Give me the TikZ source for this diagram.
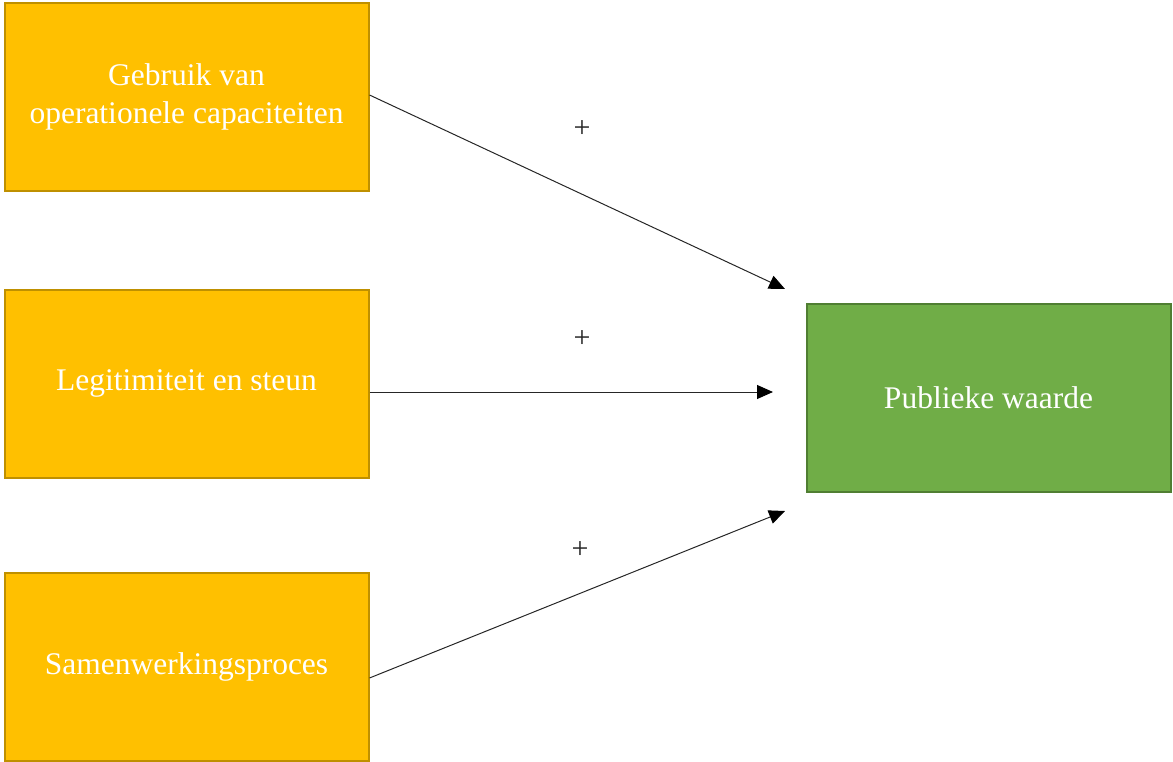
\documentclass[tikz,border=0pt]{standalone}
\usepackage{fontspec}
\setmainfont{Liberation Serif}
\usetikzlibrary{arrows.meta,calc}
\definecolor{yfill}{HTML}{FFC000}
\definecolor{ydraw}{HTML}{BF9000}
\definecolor{gfill}{HTML}{70AD47}
\definecolor{gdraw}{HTML}{507E32}
\begin{document}
\begin{tikzpicture}[x=1pt,y=-1pt,
  ybox/.style={draw=ydraw,fill=yfill,line width=2pt,minimum width=364pt,minimum height=188pt,inner sep=0pt,
    text=white,align=center,font=\fontsize{31.5}{38}\selectfont},
  gbox/.style={ybox,draw=gdraw,fill=gfill},
  link/.style={line width=1pt,draw=black!85,-{Triangle[length=16pt,width=14pt,color=black]}},
  sign/.style={font=\fontsize{30}{30}\selectfont,text=black!85,inner sep=0pt}]
\useasboundingbox (0,0) rectangle (1173,762);
\node[ybox] (b1) at (186.5,97) {\raisebox{-3pt}{Gebruik van}\\\raisebox{-3pt}{operationele capaciteiten}};
\node[ybox] (b2) at (186.5,383.5) {\raisebox{-3pt}{Legitimiteit en steun}};
\node[ybox] (b3) at (186.5,666.5) {\raisebox{-2pt}{Samenwerkingsproces}};
\node[gbox] (g) at (988.5,398) {\raisebox{-2pt}{Publieke waarde}};
\coordinate (t1) at (785,289);
\coordinate (t2) at (773,392);
\coordinate (t3) at (785,511);
\draw[link] ([yshift=2pt]b1.east) -- (t1);
\draw[link] ([yshift=-8.5pt]b2.east) -- (t2);
\draw[link] ([yshift=-11.5pt]b3.east) -- (t3);
\node[sign] (p1) at (582,129) {+};
\node[sign] (p2) at (582,339) {+};
\node[sign] (p3) at (580,550) {+};
\end{tikzpicture}
\end{document}
